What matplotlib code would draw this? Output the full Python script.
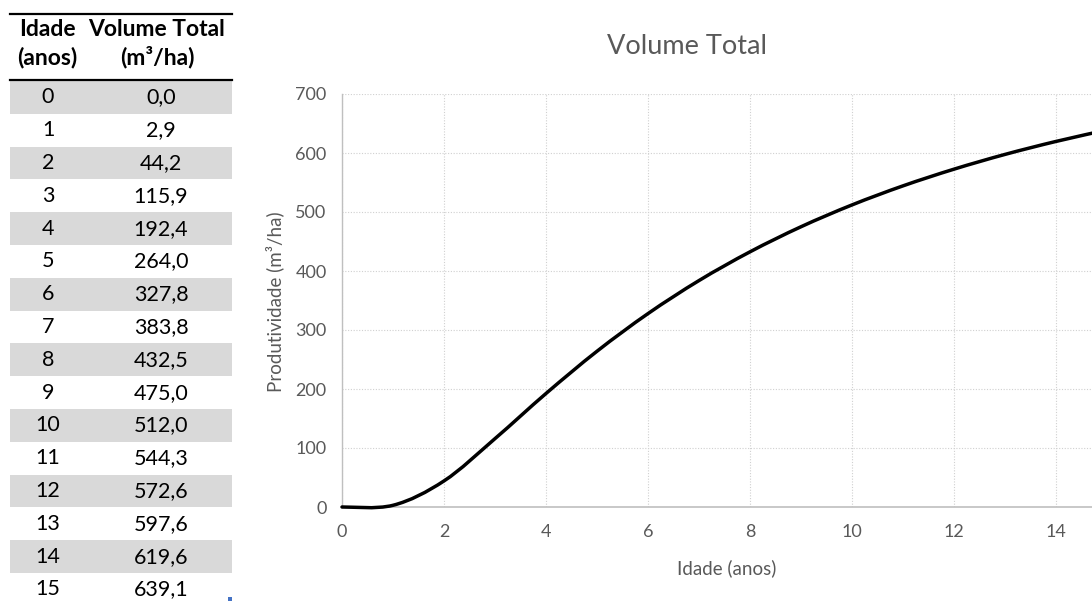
import numpy as np
import matplotlib.pyplot as plt
from matplotlib.path import Path
from matplotlib.patches import PathPatch, Rectangle

plt.rcParams['font.family'] = ['Lato', 'DejaVu Sans']

# dados da tabela
idade = [0, 1, 2, 3, 4, 5, 6, 7, 8, 9, 10, 11, 12, 13, 14, 15]
volume = [0.0, 2.9, 44.2, 115.9, 192.4, 264.0, 327.8, 383.8, 432.5,
          475.0, 512.0, 544.3, 572.6, 597.6, 619.6, 639.1]
header1 = ['Idade', 'Volume Total']
header2 = ['(anos)', '(m³/ha)']
x_ticks = [0, 2, 4, 6, 8, 10, 12, 14]
y_ticks = [0, 100, 200, 300, 400, 500, 600, 700]

TXT = '#595959'
W, H = 1092, 604

fig = plt.figure(figsize=(W / 100, H / 100), dpi=100)

# ---- tabela (em pixels) ----
tab = fig.add_axes([0, 0, 1, 1])
tab.set_xlim(0, W)
tab.set_ylim(H, 0)
tab.axis('off')

col_x = [48, 161]
head_x = [47, 157]
row_h = 32.8
tab.plot([10, 232], [14, 14], color='black', lw=1.6)
tab.plot([10, 232], [80, 80], color='black', lw=1.6)
for j in range(2):
    tab.text(head_x[j], 30, header1[j], ha='center', va='center',
             fontsize=16.5, fontweight='bold', color='black')
    tab.text(head_x[j], 57, header2[j], ha='center', va='center',
             fontsize=16.5, fontweight='bold', color='black')

for i, (a, v) in enumerate(zip(idade, volume)):
    top = 81 + i * row_h
    if i % 2 == 0:
        tab.add_patch(Rectangle((10, top), 222, row_h, color='#D9D9D9', lw=0))
    yc = top + row_h / 2
    tab.text(col_x[0], yc, str(a), ha='center', va='center', fontsize=15.5, color='black')
    tab.text(col_x[1], yc, f'{v:.1f}'.replace('.', ','), ha='center', va='center',
             fontsize=15.5, color='black')
tab.add_patch(Rectangle((228, 597), 4, 4, color='#4472C4', lw=0))

# ---- grafico ----
left, right = 342, 1158
bottom, top_px = 507, 94
ax = fig.add_axes([left / W, 1 - bottom / H, (right - left) / W, (bottom - top_px) / H])
ax.set_xlim(0, 16)
ax.set_ylim(0, 700)
ax.set_xticks(x_ticks)
ax.set_yticks(y_ticks)
ax.tick_params(length=0, labelsize=13, labelcolor=TXT)
ax.tick_params(axis='x', pad=12)
ax.tick_params(axis='y', pad=11)
ax.grid(True, color='#D0D0D0', linestyle=(0, (1, 1.5)), lw=0.8)
for s in ['top', 'right']:
    ax.spines[s].set_visible(False)
ax.spines['left'].set_color('#BFBFBF')
ax.spines['bottom'].set_color('#BFBFBF')
ax.spines['left'].set_linewidth(1.0)
ax.spines['bottom'].set_linewidth(1.2)

# linha suavizada (bezier estilo Excel)
pts = np.column_stack([idade, volume]).astype(float)
verts = [pts[0]]
codes = [Path.MOVETO]
n = len(pts)
for i in range(n - 1):
    p_prev = pts[i - 1] if i > 0 else pts[i]
    p_next2 = pts[i + 2] if i + 2 < n else pts[i + 1]
    c1 = pts[i] + (pts[i + 1] - p_prev) / 6
    c2 = pts[i + 1] - (p_next2 - pts[i]) / 6
    verts += [c1, c2, pts[i + 1]]
    codes += [Path.CURVE4] * 3
ax.add_patch(PathPatch(Path(verts, codes), fill=False, color='black', lw=2.5,
                       capstyle='round', clip_on=False, zorder=3))

fig.text(687 / W, 1 - 47 / H, 'Volume Total', ha='center', va='center',
         fontsize=19.5, color=TXT)
fig.text(727 / W, 1 - 568 / H, 'Idade (anos)', ha='center', va='center',
         fontsize=13.5, color=TXT)
fig.text(275 / W, 1 - 302 / H, 'Produtividade (m³/ha)', ha='center', va='center',
         rotation=90, fontsize=13.5, color=TXT)

fig.savefig('out.png', dpi=100)
